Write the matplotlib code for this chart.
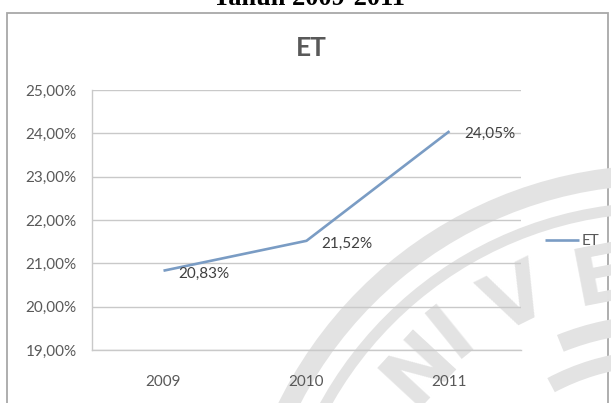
import numpy as np
import matplotlib
matplotlib.use("Agg")
import matplotlib.pyplot as plt
from matplotlib.patches import Rectangle, Wedge

# Data
years = ["2009", "2010", "2011"]
et_values = [20.83, 21.52, 24.05]
y_ticks = [19, 20, 21, 22, 23, 24, 25]
series_name = "ET"
page_heading = "Tahun 2009-2011"
chart_title = "ET"

W, H = 611, 403
DPI = 100
fig = plt.figure(figsize=(W / DPI, H / DPI), dpi=DPI)
fig.patch.set_facecolor("white")

FONT = ["Lato", "DejaVu Sans"]
TXT = "#595959"
GRID = "#c9c9c9"
LINE = "#7a9cc4"


def px_box(x0, y0, x1, y1):
    return [x0 / W, 1 - y1 / H, (x1 - x0) / W, (y1 - y0) / H]


# Background layer in pixel units (y up): chart frame and faint watermark
bg = fig.add_axes([0, 0, 1, 1], zorder=0)
bg.set_xlim(0, W)
bg.set_ylim(0, H)
bg.axis("off")
bg.add_patch(Rectangle((7, -5), 601, H - 13 + 5, fill=False,
                       edgecolor="#a8a8a8", linewidth=1.3))

wm = "#e3e3e3"
cx, cy = 660, H - 590
bg.add_patch(Wedge((cx, cy), 425, 90, 170, width=20, color=wm, lw=0))
bg.add_patch(Wedge((cx, cy), 388, 90, 170, width=11, color=wm, lw=0))
bg.add_patch(Wedge((cx, cy), 275, 92, 112, width=18, color=wm, lw=0))
bg.add_patch(Wedge((cx, cy), 240, 96, 118, width=16, color=wm, lw=0))
for ch, (px, py) in zip("NIVE", [(420, 368), (452, 333), (517, 301),
                                 (600, 279)]):
    ang = np.degrees(np.arctan2((H - py) - cy, px - cx))
    bg.text(px, H - py, ch, fontsize=58, fontweight="bold",
            family=["DejaVu Sans"], color=wm, rotation=ang - 90,
            ha="center", va="center", rotation_mode="anchor")

# Page heading, partly cut at the top edge
fig.text(309 / W, 1 - 5 / H, page_heading, family=["Liberation Serif"],
         fontweight="bold", fontsize=19, ha="center", va="baseline",
         color="black")

# Chart title
fig.text(311 / W, 1 - 48 / H, chart_title, family=FONT, fontsize=19,
         fontweight="bold", color=TXT, ha="center", va="center")

# Plot area
ax = fig.add_axes(px_box(92, 90, 521, 350), zorder=1)
ax.set_facecolor("none")
x = np.arange(len(years))
ax.plot(x, et_values, color=LINE, linewidth=1.9, solid_capstyle="butt",
        label=series_name, zorder=3)
ax.set_xlim(-0.5, len(years) - 0.5)
ax.set_ylim(y_ticks[0], y_ticks[-1])
ax.set_yticks(y_ticks)
ax.set_yticklabels([f"{v:.2f}".replace(".", ",") + "%" for v in y_ticks])
ax.set_xticks(x)
ax.set_xticklabels(years)
ax.grid(axis="y", color=GRID, linewidth=1.0, zorder=1)
ax.set_axisbelow(True)
for side in ("top", "right"):
    ax.spines[side].set_visible(False)
for side in ("left", "bottom"):
    ax.spines[side].set_color(GRID)
    ax.spines[side].set_linewidth(1.0)
ax.tick_params(axis="y", length=0, pad=11, labelsize=11, labelcolor=TXT)
ax.tick_params(axis="x", length=0, pad=18, labelsize=11, labelcolor=TXT)
for lab in ax.get_xticklabels() + ax.get_yticklabels():
    lab.set_family(FONT)

# Value labels to the right of each point
for xi, v in zip(x, et_values):
    ax.annotate(f"{v:.2f}".replace(".", ",") + "%", (xi, v),
                xytext=(10.5, -2), textcoords="offset points",
                ha="left", va="center", fontsize=11, color="#404040",
                family=FONT, zorder=4)

leg = ax.legend(loc="center left", bbox_to_anchor=(545 / W, 1 - 241 / H),
                bbox_transform=fig.transFigure, frameon=False,
                handlelength=2.2, handletextpad=0.2, borderpad=0,
                borderaxespad=0, prop={"family": FONT, "size": 11})
for t in leg.get_texts():
    t.set_color(TXT)

fig.savefig("out.png", dpi=DPI, facecolor="white")
